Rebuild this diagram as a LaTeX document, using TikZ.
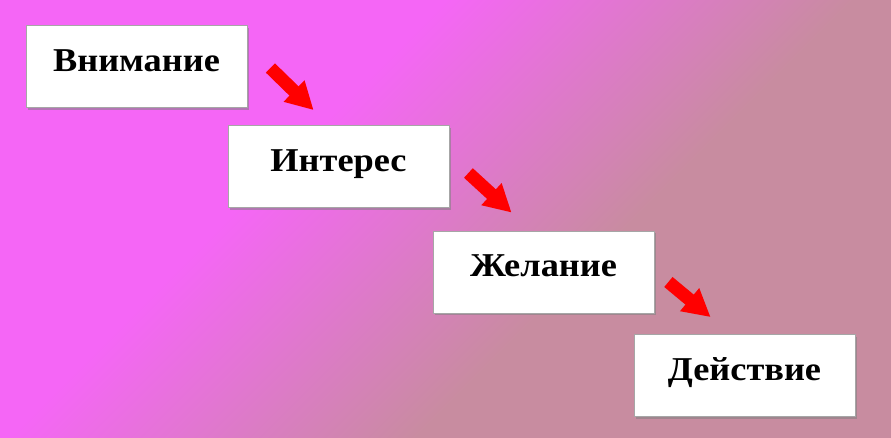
\documentclass[tikz,border=0pt]{standalone}
\usepackage{fontspec}
\setmainfont{Liberation Serif}[FakeStretch=1.09]
\usepackage{tikz}
\usetikzlibrary{arrows.meta,shadows}
\definecolor{bgmagenta}{RGB}{245,102,246}
\definecolor{bgrose}{RGB}{200,140,160}
\definecolor{arrowred}{RGB}{255,0,0}

\tikzset{
  box/.style={draw=gray!70, line width=0.6pt, fill=white, inner sep=0pt,
    minimum width=165.75pt, minimum height=61.5pt,
    text height=9pt, text depth=2.2pt,
    font=\fontsize{25}{29}\selectfont\bfseries,
    drop shadow={shadow xshift=1.6pt, shadow yshift=-1.6pt, opacity=.55}},
  flow/.style={arrowred, line width=9.75pt,
    -{Triangle[width=21pt,length=20.5pt]}}
}

\begin{document}
\begin{tikzpicture}[x=0.75pt,y=0.75pt]

\useasboundingbox (0,0) rectangle (891,438);
% background
\begin{scope}
\clip (0,0) rectangle (891,438);
\begin{scope}[transform canvas={shift={(445,219)}, rotate=-45}]
\fill[bgmagenta] (-1200,-1200) rectangle (-154,1200);
\shade[left color=bgmagenta, right color=bgrose] (-155,-1200) rectangle (135,1200);
\fill[bgrose] (134,-1200) rectangle (1200,1200);
\end{scope}
\end{scope}

\node[box] (attention) at (136.5,371.5) {Внимание};
\node[box] (interest) at (338.5,271.5) {Интерес};
\node[box] (desire) at (543.5,166) {Желание};
\node[box] (action) at (744.5,62.5) {Действие};

\draw[flow] ([shift={(23,-1.5)}]attention.east) -- ([shift={(86,15)}]interest.north west);
\draw[flow] ([shift={(19,-6.5)}]interest.east) -- ([shift={(79,18)}]desire.north west);
\draw[flow] ([shift={(14,-10)}]desire.east) -- ([shift={(77,17)}]action.north west);

\end{tikzpicture}
\end{document}
